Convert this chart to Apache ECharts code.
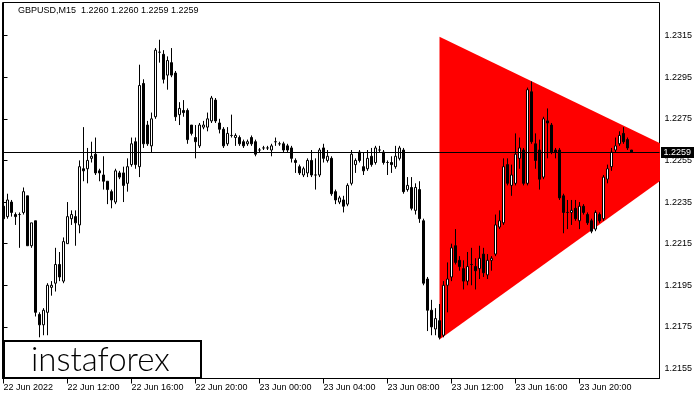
<!DOCTYPE html>
<html><head><meta charset="utf-8">
<script src="https://cdn.jsdelivr.net/npm/echarts@6/dist/echarts.min.js"></script>
<style>html,body{margin:0;padding:0;background:#fff}#c{width:700px;height:400px}</style>
</head><body><div id="c"></div>
<script>
const symbolName = 'GBPUSD,M15';
// M15 bars, index 0 = 22 Jun 2022 08:00
const opens = [1.2233,1.2228,1.2235,1.2229,1.2229,1.2230,1.2238,1.2214,1.2226,1.2181,
1.2176,1.2182,1.2194,1.2196,1.2205,1.2197,1.2215,1.2227,1.2228,1.2224,
1.2251,1.2251,1.2256,1.2258,1.2250,1.2248,1.2245,1.2240,1.2235,1.2249,
1.2249,1.2244,1.2253,1.2264,1.2252,1.2292,1.2272,1.2262,1.2276,1.2307,
1.2306,1.2296,1.2302,1.2297,1.2277,1.2279,1.2279,1.2272,1.2266,1.2262,
1.2271,1.2271,1.2274,1.2284,1.2273,1.2270,1.2263,1.2267,1.2266,1.2266,
1.2264,1.2263,1.2266,1.2264,1.2260,1.2261,1.2261,1.2260,1.2264,1.2263,
1.2263,1.2262,1.2261,1.2255,1.2252,1.2248,1.2249,1.2255,1.2248,1.2248,
1.2261,1.2255,1.2256,1.2240,1.2235,1.2236,1.2234,1.2244,1.2253,1.2259,
1.2252,1.2251,1.2257,1.2254,1.2260,1.2259,1.2254,1.2254,1.2252,1.2256,
1.2260,1.2241,1.2242,1.2231,1.2241,1.2226,1.2198,1.2183,1.2174,1.2178,
1.2171,1.2195,1.2199,1.2214,1.2207,1.2203,1.2197,1.2205,1.2204,1.2203,
1.2210,1.2200,1.2207,1.2210,1.2223,1.2225,1.2253,1.2243,1.2244,1.2256,
1.2260,1.2244,1.2288,1.2263,1.2260,1.2247,1.2274,1.2272,1.2260,1.2260,
1.2238,1.2230,1.2230,1.2232,1.2226,1.2233,1.2229,1.2226,1.2222,1.2229,
1.2227,1.2246,1.2252,1.2260,1.2263,1.2268,1.2265,1.2260];
const closes = [1.2227,1.2236,1.2230,1.2228,1.2229,1.2240,1.2214,1.2225,1.2182,1.2176,
1.2183,1.2195,1.2195,1.2205,1.2199,1.2216,1.2228,1.2229,1.2225,1.2252,
1.2250,1.2255,1.2257,1.2249,1.2249,1.2245,1.2241,1.2236,1.2250,1.2247,
1.2243,1.2252,1.2263,1.2253,1.2291,1.2263,1.2263,1.2275,1.2308,1.2307,
1.2294,1.2303,1.2296,1.2276,1.2280,1.2278,1.2265,1.2268,1.2264,1.2272,
1.2272,1.2275,1.2285,1.2274,1.2270,1.2262,1.2268,1.2267,1.2267,1.2263,
1.2262,1.2264,1.2263,1.2258,1.2260,1.2261,1.2261,1.2262,1.2264,1.2263,
1.2260,1.2260,1.2256,1.2254,1.2249,1.2251,1.2255,1.2248,1.2248,1.2260,
1.2256,1.2257,1.2239,1.2236,1.2237,1.2233,1.2243,1.2258,1.2255,1.2255,
1.2250,1.2256,1.2253,1.2261,1.2260,1.2254,1.2254,1.2253,1.2257,1.2261,
1.2240,1.2243,1.2232,1.2242,1.2227,1.2196,1.2183,1.2175,1.2179,1.2170,
1.2195,1.2198,1.2213,1.2206,1.2204,1.2197,1.2204,1.2205,1.2202,1.2208,
1.2201,1.2207,1.2208,1.2224,1.2226,1.2252,1.2244,1.2248,1.2258,1.2261,
1.2244,1.2289,1.2264,1.2255,1.2246,1.2275,1.2273,1.2259,1.2259,1.2237,
1.2230,1.2230,1.2231,1.2227,1.2233,1.2230,1.2225,1.2221,1.2230,1.2226,
1.2247,1.2251,1.2259,1.2262,1.2267,1.2264,1.2261,1.2259];
const lows = [1.2225,1.2227,1.2228,1.2224,1.2213,1.2229,1.2214,1.2213,1.2180,1.2170,
1.2171,1.2171,1.2190,1.2192,1.2197,1.2196,1.2215,1.2224,1.2214,1.2220,
1.2245,1.2244,1.2254,1.2248,1.2245,1.2241,1.2234,1.2232,1.2234,1.2246,
1.2235,1.2240,1.2252,1.2251,1.2247,1.2261,1.2262,1.2259,1.2275,1.2302,
1.2292,1.2289,1.2295,1.2274,1.2272,1.2276,1.2263,1.2267,1.2256,1.2261,
1.2270,1.2269,1.2273,1.2273,1.2268,1.2261,1.2262,1.2266,1.2262,1.2262,
1.2261,1.2262,1.2262,1.2257,1.2259,1.2260,1.2260,1.2257,1.2262,1.2262,
1.2259,1.2259,1.2254,1.2249,1.2248,1.2247,1.2247,1.2247,1.2241,1.2247,
1.2254,1.2254,1.2238,1.2234,1.2234,1.2230,1.2233,1.2243,1.2249,1.2254,
1.2248,1.2250,1.2252,1.2253,1.2259,1.2253,1.2248,1.2249,1.2251,1.2255,
1.2239,1.2240,1.2231,1.2229,1.2225,1.2195,1.2173,1.2171,1.2171,1.2169,
1.2170,1.2182,1.2197,1.2205,1.2202,1.2193,1.2195,1.2195,1.2193,1.2198,
1.2199,1.2198,1.2202,1.2209,1.2222,1.2224,1.2243,1.2238,1.2243,1.2251,
1.2243,1.2243,1.2263,1.2251,1.2241,1.2246,1.2256,1.2258,1.2256,1.2236,
1.2220,1.2222,1.2224,1.2226,1.2222,1.2229,1.2224,1.2220,1.2221,1.2225,
1.2226,1.2244,1.2250,1.2259,1.2262,1.2263,1.2260,1.2259];
const highs = [1.2237,1.2239,1.2236,1.2230,1.2230,1.2242,1.2238,1.2225,1.2226,1.2182,
1.2184,1.2196,1.2197,1.2213,1.2211,1.2218,1.2235,1.2231,1.2231,1.2255,
1.2271,1.2261,1.2264,1.2266,1.2251,1.2257,1.2245,1.2241,1.2251,1.2250,
1.2252,1.2256,1.2266,1.2266,1.2301,1.2294,1.2274,1.2278,1.2309,1.2313,
1.2308,1.2305,1.2309,1.2298,1.2283,1.2284,1.2280,1.2272,1.2272,1.2273,
1.2274,1.2278,1.2286,1.2285,1.2275,1.2271,1.2271,1.2277,1.2268,1.2267,
1.2265,1.2265,1.2267,1.2265,1.2261,1.2262,1.2262,1.2263,1.2266,1.2264,
1.2264,1.2263,1.2262,1.2256,1.2253,1.2252,1.2256,1.2260,1.2256,1.2261,
1.2263,1.2260,1.2257,1.2241,1.2238,1.2238,1.2244,1.2260,1.2256,1.2260,
1.2259,1.2260,1.2261,1.2262,1.2262,1.2260,1.2255,1.2257,1.2262,1.2262,
1.2261,1.2247,1.2247,1.2244,1.2245,1.2227,1.2199,1.2188,1.2184,1.2186,
1.2197,1.2206,1.2215,1.2222,1.2209,1.2207,1.2211,1.2213,1.2208,1.2214,
1.2213,1.2210,1.2209,1.2229,1.2231,1.2256,1.2256,1.2253,1.2268,1.2266,
1.2261,1.2290,1.2293,1.2268,1.2265,1.2276,1.2280,1.2273,1.2261,1.2261,
1.2239,1.2236,1.2236,1.2236,1.2235,1.2234,1.2230,1.2227,1.2231,1.2230,
1.2248,1.2253,1.2261,1.2266,1.2269,1.2271,1.2266,1.2260];
const xTickIndex = [0,16,32,48,64,80,96,112,128,144];
const xTickLabels = ['22 Jun 2022','22 Jun 12:00','22 Jun 16:00','22 Jun 20:00','23 Jun 00:00','23 Jun 04:00','23 Jun 08:00','23 Jun 12:00','23 Jun 16:00','23 Jun 20:00'];
const yTicks = [1.2155,1.2175,1.2195,1.2215,1.2235,1.2255,1.2275,1.2295,1.2315];
const currentPrice = 1.2259;
// triangle vertices: [bar index, price]
const triangle = [[109,1.23145],[172,1.2256],[109,1.2169]];

const last = opens.length - 1;
const titleText = symbolName + '  ' + [opens[last], highs[last], lows[last], closes[last]].map(v => v.toFixed(4)).join(' ');
const candleData = opens.map((o, i) => [i, o, closes[i], lows[i], highs[i]]);
const FONT = 'Liberation Sans';

const chart = echarts.init(document.getElementById('c'), null, {renderer: 'canvas'});
chart.setOption({
  animation: false,
  backgroundColor: '#fff',
  title: {text: titleText, left: 18, top: 6, padding: 0,
    textStyle: {fontSize: 9, fontWeight: 'normal', color: '#000', fontFamily: FONT}},
  grid: {left: 2.5, top: 2.5, width: 657, height: 376, show: true, borderColor: '#000', borderWidth: 1, backgroundColor: '#fff'},
  xAxis: {
    type: 'value', min: -0.25, max: 164,
    axisLine: {show: true, lineStyle: {color: '#000', width: 1}},
    axisTick: {show: true, length: 5, customValues: xTickIndex, lineStyle: {color: '#000'}},
    axisLabel: {customValues: xTickIndex, formatter: v => xTickLabels[xTickIndex.indexOf(Math.round(v))] || '',
      align: 'left', margin: 5, color: '#000', fontSize: 9, fontFamily: FONT},
    splitLine: {show: false}
  },
  yAxis: {
    type: 'value', position: 'right', min: 1.21502, max: 1.23309,
    axisLine: {show: true, lineStyle: {color: '#000', width: 1}},
    axisTick: {show: true, length: 4, customValues: yTicks, lineStyle: {color: '#000'}},
    axisLabel: {customValues: yTicks, formatter: v => v.toFixed(4), margin: 5, color: '#000', fontSize: 9, fontFamily: FONT},
    splitLine: {show: false}
  },
  series: [
    {
      type: 'custom', z: 1, clip: true, silent: true,
      data: [triangle[0]],
      renderItem: (params, api) => ({
        type: 'polygon',
        shape: {points: triangle.map(p => api.coord(p))},
        style: {fill: '#ff0000', stroke: null}
      })
    },
    {
      type: 'candlestick', z: 3, barWidth: 2, silent: true,
      data: candleData,
      itemStyle: {color: '#ffffff', color0: '#000000', borderColor: '#000000', borderColor0: '#000000', borderColorDoji: '#000000', borderWidth: 1}
    },
    {
      type: 'custom', z: 4, clip: false, silent: true,
      data: [[0, currentPrice]],
      renderItem: (params, api) => {
        const cs = params.coordSys;
        const y = Math.round(api.coord([0, currentPrice])[1] - 0.5) + 0.5;
        const xr = cs.x + cs.width;
        return {
          type: 'group',
          children: [
            {type: 'line', shape: {x1: cs.x, y1: y, x2: xr, y2: y}, style: {stroke: '#000', lineWidth: 1}},
            {type: 'rect', shape: {x: xr + 1.5, y: y - 5.5, width: 33, height: 11}, style: {fill: '#000'}},
            {type: 'text', x: xr + 4, y: y + 0.5, style: {text: currentPrice.toFixed(4), fill: '#fff', fontSize: 9, fontFamily: FONT, align: 'left', verticalAlign: 'middle'}}
          ]
        };
      }
    }
  ],
  graphic: [
    {type: 'rect', z: 100, shape: {x: 4, y: 341, width: 197, height: 37},
      style: {fill: '#fff', stroke: '#000', lineWidth: 2}},
    {type: 'text', z: 101, x: 31, y: 360,
      style: {text: 'instaforex', fontSize: 33, fontFamily: 'Lato', fontWeight: 300, fill: '#000', align: 'left', verticalAlign: 'middle'}}
  ]
});
</script></body></html>
